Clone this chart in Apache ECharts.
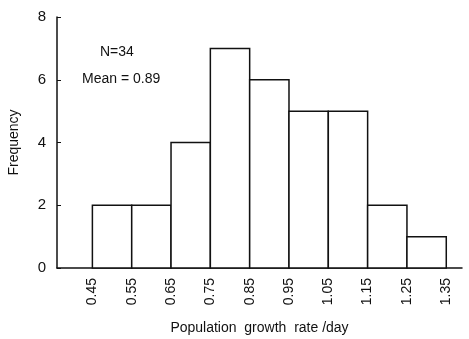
<!DOCTYPE html>
<html><head><meta charset="utf-8">
<script src="https://cdn.jsdelivr.net/npm/echarts@6/dist/echarts.min.js"></script>
<style>html,body{margin:0;padding:0;background:#fff}#c{width:469px;height:339px}</style>
</head><body><div id="c"></div>
<script>
const binStarts = [0.45, 0.55, 0.65, 0.75, 0.85, 0.95, 1.05, 1.15, 1.25];
const binWidth = 0.1;
const frequencies = [2, 2, 4, 7, 6, 5, 5, 2, 1];
const tickLabels = ['0.45', '0.55', '0.65', '0.75', '0.85', '0.95', '1.05', '1.15', '1.25', '1.35'];

const chart = echarts.init(document.getElementById('c'));
const txt = '#111';
const font = 'Liberation Sans';
chart.setOption({
  animation: false,
  backgroundColor: '#fff',
  grid: { left: 57, right: 7, top: 17, bottom: 71, outerBoundsMode: 'none', containLabel: false },
  xAxis: {
    type: 'value', min: 0.36, max: 1.39,
    name: 'Population  growth  rate /day', nameLocation: 'middle', nameGap: 53,
    nameTextStyle: { color: txt, fontSize: 14, fontFamily: font },
    axisLine: { show: true, lineStyle: { color: '#111', width: 1.5 } },
    axisTick: { show: false },
    splitLine: { show: false },
    axisLabel: {
      customValues: tickLabels.map(Number),
      formatter: v => v.toFixed(2),
      rotate: 90, margin: 10, color: txt, fontSize: 14, fontFamily: font
    }
  },
  yAxis: {
    type: 'value', min: 0, max: 8, interval: 2,
    name: 'Frequency', nameLocation: 'middle', nameGap: 36,
    nameTextStyle: { color: txt, fontSize: 14, fontFamily: font },
    axisLine: { show: true, lineStyle: { color: '#111', width: 1.5 } },
    axisTick: { show: true, inside: true, length: 4, lineStyle: { color: '#111' } },
    splitLine: { show: false },
    axisLabel: { margin: 11, color: txt, fontSize: 15, fontFamily: font }
  },
  graphic: [
    { type: 'text', left: 100, top: 45, style: { text: 'N=34', fill: txt, fontSize: 14, fontFamily: font } },
    { type: 'text', left: 82, top: 72, style: { text: 'Mean = 0.89', fill: txt, fontSize: 14, fontFamily: font } }
  ],
  series: [{
    type: 'custom',
    data: binStarts.map((s, i) => [s, s + binWidth, frequencies[i]]),
    encode: { x: [0, 1], y: 2 },
    renderItem: function (params, api) {
      const p0 = api.coord([api.value(0), api.value(2)]);
      const p1 = api.coord([api.value(1), 0]);
      return {
        type: 'rect',
        shape: { x: p0[0], y: p0[1], width: p1[0] - p0[0], height: p1[1] - p0[1] },
        style: { fill: '#fff', stroke: '#111', lineWidth: 1.5 }
      };
    }
  }]
});
</script></body></html>
